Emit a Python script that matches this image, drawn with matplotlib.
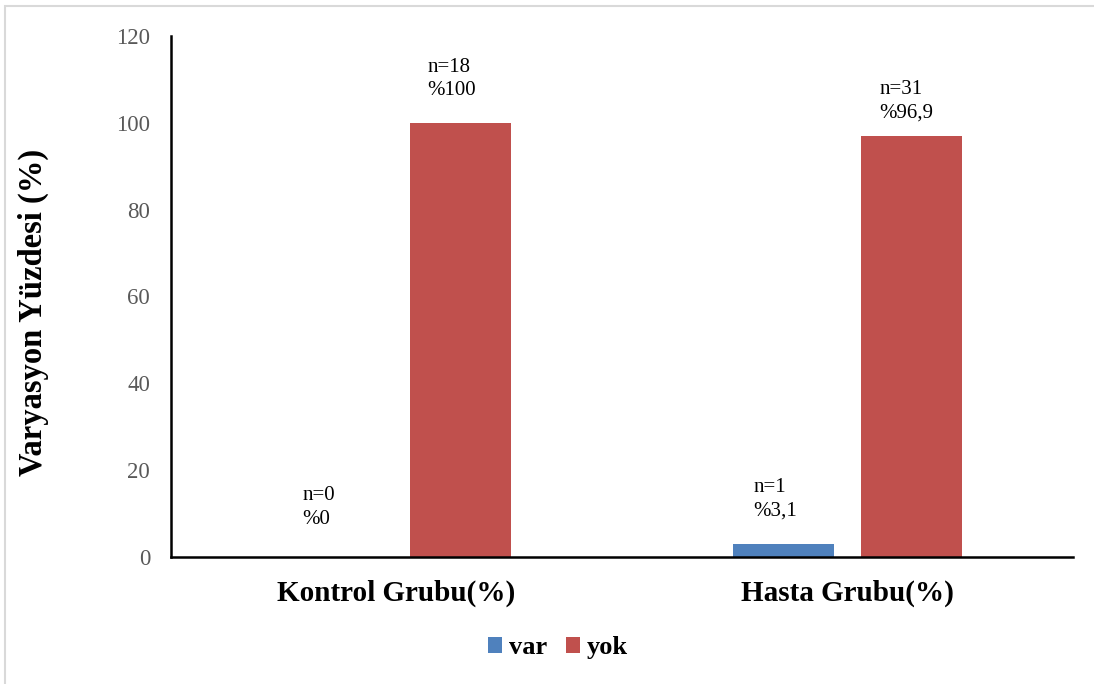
import matplotlib.pyplot as plt
from matplotlib.patches import Rectangle
import numpy as np

plt.rcParams['font.family'] = ['Liberation Serif', 'DejaVu Serif']

# groups and series
groups = ['Kontrol Grubu(%)', 'Hasta Grubu(%)']
series = ['var', 'yok']
var_pct = [0, 3.1]
yok_pct = [100, 96.9]
var_n = [0, 1]
yok_n = [18, 31]
var_txt = ['%0', '%3,1']
yok_txt = ['%100', '%96,9']

colors = ['#4F81BD', '#C0504D']

fig = plt.figure(figsize=(10.94, 6.84), dpi=100)
ax = fig.add_axes([0.1563, 0.1857, 0.8245, 0.7617])

# light frame round the whole chart
fig.patches.append(Rectangle((5 / 1094, -0.02), 1.1, 1 - 6 / 684 + 0.02,
                             transform=fig.transFigure, fill=False,
                             edgecolor='#D9D9D9', linewidth=1.5))

x = np.arange(len(groups))
width = 0.222
offset = 0.142

b1 = ax.bar(x - offset, var_pct, width, color=colors[0], label=series[0])
b2 = ax.bar(x + offset, yok_pct, width, color=colors[1], label=series[1])

# value labels: (dx, dy) in points from the bar top
var_off = [(-9.7, 20.5), (-5.8, 16.5)]
yok_off = [(-6.5, 16.5), (-3.6, 10.0)]

for bars, ns, txts, offs in [(b1, var_n, var_txt, var_off), (b2, yok_n, yok_txt, yok_off)]:
    for rect, n, t, (dx, dy) in zip(bars, ns, txts, offs):
        ax.annotate('n=%d\n%s' % (n, t),
                    xy=(rect.get_x() + rect.get_width() / 2, rect.get_height()),
                    xytext=(dx, dy), textcoords='offset points',
                    ha='center', va='bottom', multialignment='left',
                    fontsize=15, linespacing=1.3)

ax.set_xlim(-0.5, 1.5)
ax.set_ylim(0, 120)
ax.set_yticks(range(0, 121, 20))
ax.set_xticks(x)
ax.set_xticklabels(groups, fontsize=21, fontweight='bold')

ax.tick_params(axis='y', length=0, pad=15, labelsize=16.5, labelcolor='#595959')
ax.tick_params(axis='x', length=0, pad=16)

for s in ['top', 'right']:
    ax.spines[s].set_visible(False)
ax.spines['left'].set_linewidth(1.8)
ax.spines['bottom'].set_linewidth(1.8)

ax.set_ylabel('Varyasyon Yüzdesi (%)', fontsize=23.5, fontweight='bold', va='center')
ax.yaxis.set_label_coords(-0.153, 0.47)

fig.legend(loc='center', bbox_to_anchor=(0.51, 0.053), ncol=2, frameon=False,
           prop={'size': 19, 'weight': 'bold'}, handlelength=0.55, handleheight=0.55,
           handletextpad=0.25, columnspacing=0.7)

plt.savefig('out.png', dpi=100)
